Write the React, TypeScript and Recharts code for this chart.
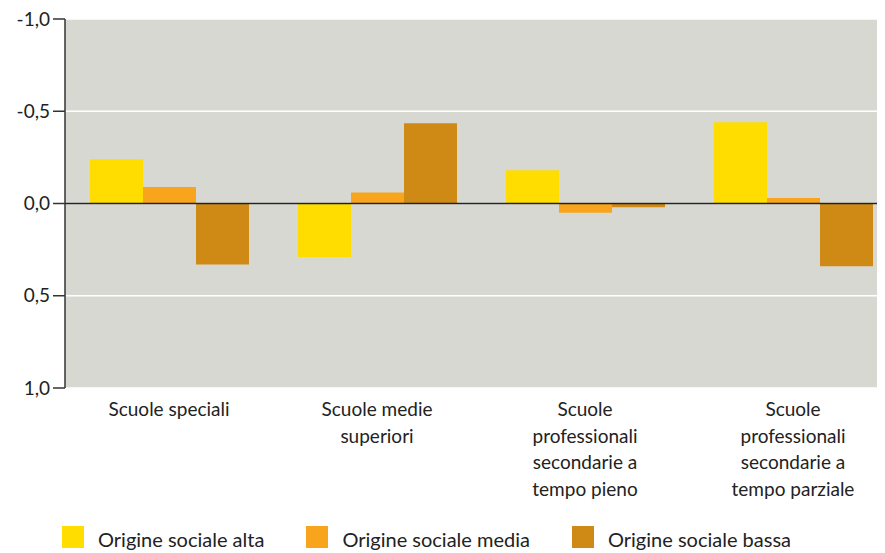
import React from "react";
import {
  BarChart,
  Bar,
  XAxis,
  YAxis,
  CartesianGrid,
  ReferenceLine,
} from "recharts";

// ===== Dati =====
const categories = [
  "Scuole speciali",
  "Scuole medie\nsuperiori",
  "Scuole\nprofessionali\nsecondarie a\ntempo pieno",
  "Scuole\nprofessionali\nsecondarie a\ntempo parziale",
];
const origineAlta = [-0.24, 0.29, -0.18, -0.44];
const origineMedia = [-0.09, -0.06, 0.05, -0.03];
const origineBassa = [0.33, -0.435, 0.02, 0.34];
const yTicks = [-1, -0.5, 0, 0.5, 1];

const seriesNames = [
  "Origine sociale alta",
  "Origine sociale media",
  "Origine sociale bassa",
];
const COLORS = ["#FFDD00", "#F8A51D", "#CE8A15"];

const FONT = "Lato, 'Open Sans', sans-serif";

const data = categories.map((name, i) => ({
  name,
  alta: origineAlta[i],
  media: origineMedia[i],
  bassa: origineBassa[i],
}));

const formatTick = (v: number) => v.toFixed(1).replace(".", ",");

// etichette asse X su più righe
const CategoryTick = (props: any) => {
  const { x, y, payload } = props;
  const lines = String(payload.value).split("\n");
  return (
    <text
      x={x}
      y={y}
      textAnchor="middle"
      fill="#222"
      fontSize={19}
      fontFamily={FONT}
    >
      {lines.map((line, i) => (
        <tspan key={i} x={x} dy={i === 0 ? 20 : 26.5}>
          {line}
        </tspan>
      ))}
    </text>
  );
};

// legenda in basso, nell'ordine delle serie
const LegendRow = () => (
  <div
    style={{
      position: "absolute",
      left: 62,
      top: 526,
      display: "flex",
      fontFamily: FONT,
      fontSize: 20,
      whiteSpace: "nowrap",
    }}
  >
    {seriesNames.map((name, i) => (
      <div
        key={name}
        style={{ display: "flex", alignItems: "flex-start", marginRight: 42 }}
      >
        <span
          style={{
            width: 22,
            height: 22,
            background: COLORS[i],
            display: "inline-block",
            marginRight: 14,
          }}
        />
        <span style={{ color: "#222", lineHeight: "22px", marginTop: 2 }}>
          {name}
        </span>
      </div>
    ))}
  </div>
);

export default function App() {
  return (
    <div
      style={{
        position: "relative",
        width: 885,
        height: 553,
        margin: "-8px 0 0 -8px",
        overflow: "hidden",
        background: "#fff",
      }}
    >
      <BarChart
        width={900}
        height={580}
        data={data}
        margin={{ top: 19, right: 3, bottom: 162, left: 0 }}
        barCategoryGap={25}
        barGap={0}
      >
        <CartesianGrid
          vertical={false}
          stroke="#ffffff"
          strokeWidth={1.5}
          fill="#D8D8D2"
        />
        <XAxis
          dataKey="name"
          height={30}
          axisLine={false}
          tickLine={false}
          interval={0}
          tick={<CategoryTick />}
        />
        <YAxis
          reversed
          domain={[-1, 1]}
          ticks={yTicks}
          width={65}
          tickFormatter={formatTick}
          axisLine={{ stroke: "#333", strokeWidth: 1.5 }}
          tickLine={{ stroke: "#333", strokeWidth: 1.5 }}
          tickSize={12}
          tickMargin={3}
          tick={{ fill: "#222", fontSize: 19, fontFamily: FONT }}
        />
        <Bar dataKey="alta" name={seriesNames[0]} fill={COLORS[0]} isAnimationActive={false} />
        <Bar dataKey="media" name={seriesNames[1]} fill={COLORS[1]} isAnimationActive={false} />
        <Bar dataKey="bassa" name={seriesNames[2]} fill={COLORS[2]} isAnimationActive={false} />
        <ReferenceLine y={0} stroke="#222" strokeWidth={1.5} />
      </BarChart>
      <LegendRow />
    </div>
  );
}
